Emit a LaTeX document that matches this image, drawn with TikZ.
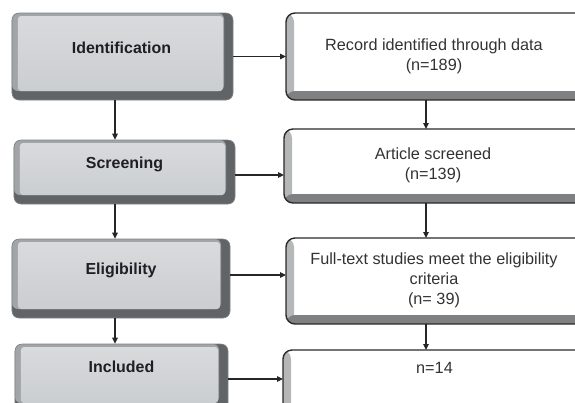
\documentclass[tikz,border=0pt]{standalone}
\usepackage{fontspec}
\setmainfont{Liberation Sans}
\usetikzlibrary{arrows.meta}
\definecolor{ldark}{HTML}{606467}
\definecolor{lmid}{HTML}{A2A5A7}
\definecolor{lfaceT}{HTML}{D8DADC}
\definecolor{lfaceB}{HTML}{CBCED0}
\definecolor{lline}{HTML}{808386}
\definecolor{rborder}{HTML}{2A2A2A}
\definecolor{rstrip}{HTML}{7E8082}
\definecolor{rsideL}{HTML}{B4B6B8}
\definecolor{rsideR}{HTML}{F0F0F0}
\definecolor{arrcol}{HTML}{262626}
\definecolor{txt}{HTML}{1E1E24}
\definecolor{rtxt}{HTML}{333333}
\tikzset{
  leftbox/.style={rectangle, rounded corners=7bp, fill=ldark, draw=lline, line width=0.6bp,
    path picture={
      \fill[lmid, rounded corners=6bp] (path picture bounding box.north west) rectangle ([xshift=-9bp,yshift=9bp]path picture bounding box.south east);
      \shade[top color=lfaceT, bottom color=lfaceB, rounded corners=3bp] ([xshift=6bp,yshift=-3bp]path picture bounding box.north west) rectangle ([xshift=-10bp,yshift=9bp]path picture bounding box.south east);
    }},
  rightbox/.style={rectangle, rounded corners=9bp, fill=white, draw=none, outer sep=0pt,
    path picture={
      \shade[left color=rsideL, right color=rsideR] (path picture bounding box.south west) rectangle ([xshift=8bp]path picture bounding box.north west);
      \fill[rstrip] (path picture bounding box.south west) rectangle ([yshift=9bp]path picture bounding box.south east);
    }},
  rborderline/.style={draw=rborder, line width=1.4bp, rounded corners=9bp},
  ltext/.style={text=txt, font=\bfseries\fontsize{16}{19}\selectfont, align=center},
  rtext/.style={text=rtxt, font=\fontsize{16.3}{20}\selectfont, align=center},
  arr/.style={draw=arrcol, line width=1.3bp, -{Triangle[length=6bp,width=5.5bp]}},
}
\begin{document}
\begin{tikzpicture}[x=1bp, y=-1bp]
\useasboundingbox (0,0) rectangle (575,402);
\clip (0,0) rectangle (575,402);
% left column
\node (id) [leftbox, minimum width=221bp, minimum height=87bp,
  label={[ltext, yshift=8.5bp, xshift=-1bp]center:Identification}] at (122.5,56.5) {};
\node (scr) [leftbox, minimum width=221bp, minimum height=64bp,
  label={[ltext, yshift=8bp]center:Screening}] at (124.5,172) {};
\node (eli) [leftbox, minimum width=218bp, minimum height=79bp,
  label={[ltext, yshift=8.5bp]center:Eligibility}] at (121,278.5) {};
\node (inc) [leftbox, minimum width=213bp, minimum height=68bp,
  label={[ltext, yshift=11bp]center:Included}] at (121.5,378) {};
% right column
\node (rec) [rightbox, minimum width=304bp, minimum height=87bp,
  label={[rtext, xshift=-4bp]center:Record identified through data\\(n=189)}] at (438,56.5) {};
\node (art) [rightbox, minimum width=306bp, minimum height=74bp,
  label={[rtext, xshift=-4bp, yshift=1bp]center:Article screened\\(n=139)}] at (437,166) {};
\node (ful) [rightbox, minimum width=304bp, minimum height=86bp,
  label={[rtext, xshift=-4bp, yshift=1bp]center:Full-text studies meet the eligibility\\criteria\\(n= 39)}] at (438,281) {};
\node (n14) [rightbox, minimum width=307bp, minimum height=62bp,
  label={[rtext, xshift=-2bp, yshift=13bp]center:n=14}] at (436.5,381) {};
% borders of the right boxes, on top of their bevels
\foreach \b in {rec,art,ful,n14}
  \draw[rborderline] (\b.north west) rectangle (\b.south east);
% guide coordinates for the vertical connectors
\coordinate (lx) at (115,0);
\coordinate (rx) at (426,0);
% vertical arrows
\draw[arr] (id.south -| lx) -- (scr.north -| lx);
\draw[arr] (scr.south -| lx) -- (eli.north -| lx);
\draw[arr] (eli.south -| lx) -- (inc.north -| lx);
\draw[arr] (rec.south -| rx) -- (art.north -| rx);
\draw[arr] (art.south -| rx) -- (ful.north -| rx);
\draw[arr] (ful.south -| rx) -- (n14.north -| rx);
% horizontal arrows
\draw[arr] (id.east) -- (id.east -| rec.west);
\draw[arr] ([yshift=-3bp]scr.east) -- ([yshift=-3bp]scr.east -| art.west);
\draw[arr] ([yshift=3.5bp]eli.east) -- ([yshift=3.5bp]eli.east -| ful.west);
\draw[arr] ([yshift=-1bp]inc.east) -- ([yshift=-1bp]inc.east -| n14.west);
\end{tikzpicture}
\end{document}
